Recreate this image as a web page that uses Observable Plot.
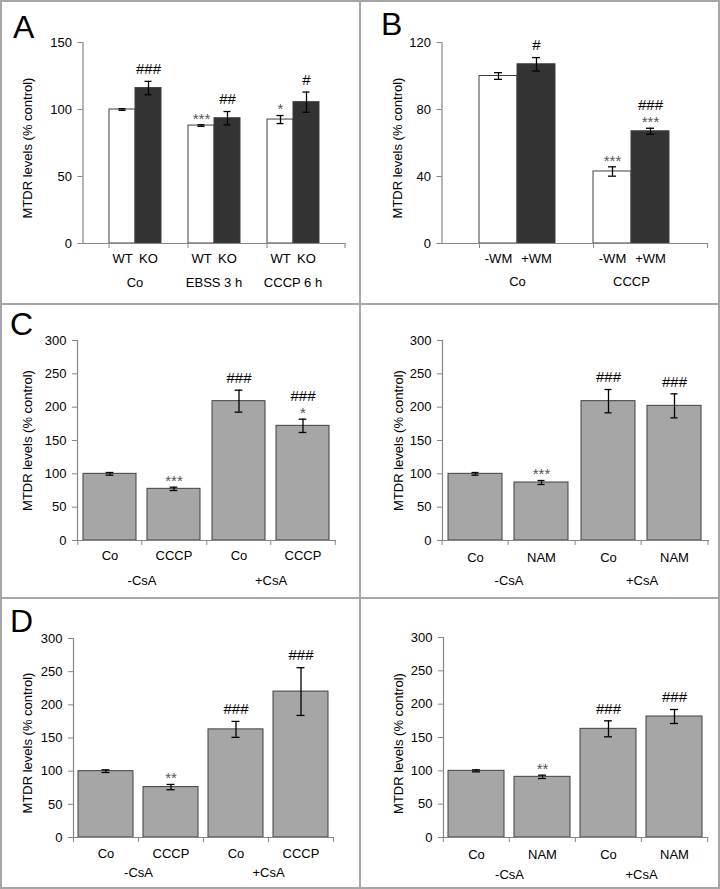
<!DOCTYPE html>
<html><head><meta charset="utf-8">
<script src="https://cdn.jsdelivr.net/npm/d3@7"></script>
<script src="https://cdn.jsdelivr.net/npm/@observablehq/plot@0.6"></script>
<style>
body{margin:0;background:#fff;}
#fig{position:relative;width:720px;height:889px;background:#fff;overflow:hidden;font-family:"Liberation Sans",Arial,sans-serif;}
.line{position:absolute;background:#a6a6a6;}
.letter{position:absolute;font-size:32px;line-height:1;color:#000;font-family:"Liberation Sans",Arial,sans-serif;}
#fig svg{position:absolute;font-family:"Liberation Sans",Arial,sans-serif !important;}
#fig svg text{font-family:"Liberation Sans",Arial,sans-serif !important;}
</style></head><body><div id="fig"></div>
<script>
const yTitle = "MTDR levels (% control)";

// Panel A
const aGroups = ["Co", "EBSS 3 h", "CCCP 6 h"];
const aConds = ["WT", "KO"];
const aValues = [100, 116, 88, 93.5, 92.5, 105.5];
const aErrors = [0.6, 5, 0.6, 5, 3, 7.5];
const aStars = ["", "", "***", "", "*", ""];
const aHashes = ["", "###", "", "##", "", "#"];
const aTicks = [0, 50, 100, 150];

// Panel B
const bGroups = ["Co", "CCCP"];
const bConds = ["-WM", "+WM"];
const bValues = [100, 107, 43, 67];
const bErrors = [2, 4, 2.8, 1.8];
const bStars = ["", "", "***", "***"];
const bHashes = ["", "#", "", "###"];
const bTicks = [0, 40, 80, 120];

// Panel C (left: CCCP, right: NAM)
const cdGroups = ["-CsA", "+CsA"];
const c1Conds = ["Co", "CCCP"];
const c1Values = [100, 77.5, 209, 172];
const c1Errors = [2, 2.5, 16.5, 10];
const c1Stars = ["", "***", "", "*"];
const c1Hashes = ["", "", "###", "###"];

const c2Conds = ["Co", "NAM"];
const c2Values = [100, 87, 209, 202];
const c2Errors = [2, 3, 17.5, 18];
const c2Stars = ["", "***", "", ""];
const c2Hashes = ["", "", "###", "###"];

// Panel D (left: CCCP, right: NAM)
const d1Conds = ["Co", "CCCP"];
const d1Values = [100, 76, 163, 220];
const d1Errors = [2, 4, 12, 36];
const d1Stars = ["", "**", "", ""];
const d1Hashes = ["", "", "###", "###"];

const d2Conds = ["Co", "NAM"];
const d2Values = [100, 91, 163, 181.5];
const d2Errors = [1.5, 2.5, 12, 10.5];
const d2Stars = ["", "**", "", ""];
const d2Hashes = ["", "", "###", "###"];

const cdTicks = [0, 50, 100, 150, 200, 250, 300];

const FONT = "Liberation Sans, Arial, sans-serif";
const AXIS = "#868686";

function panel(d, L) {
  const rows = [];
  d.groups.forEach((g, gi) => d.conds.forEach((c, ci) => {
    const i = gi * d.conds.length + ci;
    rows.push({group: g, cond: c, ci, value: d.values[i], err: d.errors[i],
      top: d.values[i] + d.errors[i], star: d.stars[i], hash: d.hashes[i]});
  }));
  const cap = (L.bw - 8) / 2;
  const pos = {fx: "group", x: "cond"};
  const o = L.outerPx;
  const marks = [
    Plot.barY(rows, {...pos, y: "value", fill: r => d.fills[r.ci], stroke: "#404040", strokeWidth: 1}),
    Plot.ruleX(rows, {...pos, y1: r => r.value - r.err, y2: r => r.value + r.err, stroke: "#000", strokeWidth: 1.3}),
    Plot.tickY(rows, {...pos, y: r => r.value + r.err, insetLeft: cap, insetRight: cap, stroke: "#000", strokeWidth: 1.3}),
    Plot.tickY(rows, {...pos, y: r => r.value - r.err, insetLeft: cap, insetRight: cap, stroke: "#000", strokeWidth: 1.3}),
    Plot.text(rows, {...pos, y: "top", text: "star", dy: -6, fontSize: 15, fill: "#555"}),
    Plot.text(rows.filter(r => !r.star), {...pos, y: "top", text: "hash", dy: -12, fontSize: 15, fill: "#000"}),
    Plot.text(rows.filter(r => r.star), {...pos, y: "top", text: "hash", dy: -23, fontSize: 15, fill: "#000"}),
    Plot.frame({anchor: "bottom", facet: "super", insetLeft: -o, insetRight: -o, stroke: AXIS, strokeWidth: 1.2}),
    Plot.frame({anchor: "left", facet: "super", insetLeft: -o, stroke: AXIS, strokeWidth: 1.2}),
    Plot.axisY({ticks: d.ticks, tickSize: 5, tickPadding: 6, stroke: AXIS, fill: "#000", dx: -o,
      fontSize: 13, label: null}),
    Plot.text([yTitle], {text: t => t, facet: "super", frameAnchor: "left", rotate: -90, lineAnchor: "top",
      textAnchor: "middle", dx: -(L.titleOffset + o), dy: L.titleDy, fontSize: 13, fill: "#000"}),
    Plot.axisX({tickSize: 0, tickPadding: L.xPad, fill: "#000", fontSize: 13, label: null}),
    Plot.axisFx({anchor: "bottom", tickSize: 0, tickPadding: L.fxPad, fill: "#000", fontSize: 13, label: null})
  ];
  if (L.step) {
    marks.push(Plot.ruleX(rows, {...pos, y1: 0, y2: 0, dx: -L.step / 2, insetBottom: -5, stroke: AXIS}));
    marks.push(Plot.ruleX(rows.slice(-1), {...pos, y1: 0, y2: 0, dx: L.step / 2, insetBottom: -5, stroke: AXIS}));
  } else {
    marks.push(Plot.ruleX(rows.filter(r => r.ci === 0), {...pos, y1: 0, y2: 0, dx: -L.bw / 2, insetBottom: -5, stroke: AXIS}));
    marks.push(Plot.ruleX(rows.slice(-1), {...pos, y1: 0, y2: 0, dx: L.endDx, insetBottom: -5, stroke: AXIS}));
  }
  const svg = Plot.plot({
    width: 360, height: L.height,
    marginLeft: L.mL, marginRight: L.mR, marginTop: L.mT, marginBottom: L.mB,
    style: {fontFamily: FONT, fontSize: "13px", color: "#000", background: "transparent", overflow: "visible"},
    fx: {domain: d.groups, paddingInner: 0, paddingOuter: L.fxOuter, axis: null, label: null},
    x: {domain: d.conds, paddingInner: L.xInner, paddingOuter: L.xOuter, axis: null, label: null},
    y: {domain: [0, d.ymax], axis: null},
    marks
  });
  svg.setAttribute("font-family", FONT);
  svg.style.left = L.left + "px";
  svg.style.top = L.top + "px";
  svg.style.maxWidth = "none";
  document.getElementById("fig").appendChild(svg);
}

const fig = document.getElementById("fig");
// panel borders
[[0, 0, 720, 2], [0, 887, 720, 2], [0, 0, 2, 889], [718, 0, 2, 889], [359, 0, 2, 889], [0, 303, 720, 2], [0, 597, 720, 2]]
  .forEach(([x, y, w, h]) => {
    const e = document.createElement("div");
    e.className = "line";
    Object.assign(e.style, {left: x + "px", top: y + "px", width: w + "px", height: h + "px"});
    fig.appendChild(e);
  });

panel({groups: aGroups, conds: aConds, values: aValues, errors: aErrors, stars: aStars, hashes: aHashes,
  ticks: aTicks, ymax: 150, fills: ["#ffffff", "#333333"]},
  {left: 0, top: 0, height: 300, mL: 82, mR: 16, mT: 42, mB: 57, fxOuter: 0.158, outerPx: 12.5, xInner: 0, xOuter: 0.463,
   bw: 27, endDx: 38.5, titleOffset: 60, titleDy: 5, xPad: 10.5, fxPad: 34});
panel({groups: bGroups, conds: bConds, values: bValues, errors: bErrors, stars: bStars, hashes: bHashes,
  ticks: bTicks, ymax: 120, fills: ["#ffffff", "#333333"]},
  {left: 360, top: 0, height: 300, mL: 81, mR: 14, mT: 42, mB: 57, fxOuter: 0.162, outerPx: 18.5, xInner: 0, xOuter: 0.5,
   bw: 38, endDx: 57, titleOffset: 49, titleDy: 5, xPad: 10.5, fxPad: 33});
panel({groups: cdGroups, conds: c1Conds, values: c1Values, errors: c1Errors, stars: c1Stars, hashes: c1Hashes,
  ticks: cdTicks, ymax: 300, fills: ["#a6a6a6", "#a6a6a6"]},
  {left: 0, top: 304, height: 294, mL: 77, mR: 25, mT: 36, mB: 58, fxOuter: 0, outerPx: 0, xInner: 0.174, xOuter: 0.087,
   bw: 53.3, step: 64.5, titleOffset: 55, titleDy: 0, xPad: 10.5, fxPad: 35});
panel({groups: cdGroups, conds: c2Conds, values: c2Values, errors: c2Errors, stars: c2Stars, hashes: c2Hashes,
  ticks: cdTicks, ymax: 300, fills: ["#a6a6a6", "#a6a6a6"]},
  {left: 360, top: 304, height: 294, mL: 81, mR: 12, mT: 36, mB: 58, fxOuter: 0, outerPx: 0, xInner: 0.176, xOuter: 0.088,
   bw: 55, step: 66.75, titleOffset: 49, titleDy: 0, xPad: 12, fxPad: 35});
panel({groups: cdGroups, conds: d1Conds, values: d1Values, errors: d1Errors, stars: d1Stars, hashes: d1Hashes,
  ticks: cdTicks, ymax: 300, fills: ["#a6a6a6", "#a6a6a6"]},
  {left: 0, top: 598, height: 291, mL: 73, mR: 27, mT: 40, mB: 52, fxOuter: 0, outerPx: 0, xInner: 0.154, xOuter: 0.077,
   bw: 55, step: 65, titleOffset: 51, titleDy: 5, xPad: 11.5, fxPad: 30});
panel({groups: cdGroups, conds: d2Conds, values: d2Values, errors: d2Errors, stars: d2Stars, hashes: d2Hashes,
  ticks: cdTicks, ymax: 300, fills: ["#a6a6a6", "#a6a6a6"]},
  {left: 360, top: 598, height: 291, mL: 82, mR: 13, mT: 39, mB: 52, fxOuter: 0, outerPx: 0, xInner: 0.155, xOuter: 0.0775,
   bw: 56, step: 66.3, titleOffset: 50, titleDy: 6, xPad: 12, fxPad: 32});

// panel letters
[["A", 13, 11], ["B", 381, 8], ["C", 10, 308], ["D", 10, 605]].forEach(([t, x, y]) => {
  const e = document.createElement("div");
  e.className = "letter";
  e.textContent = t;
  Object.assign(e.style, {left: x + "px", top: y + "px"});
  fig.appendChild(e);
});
</script></body></html>
